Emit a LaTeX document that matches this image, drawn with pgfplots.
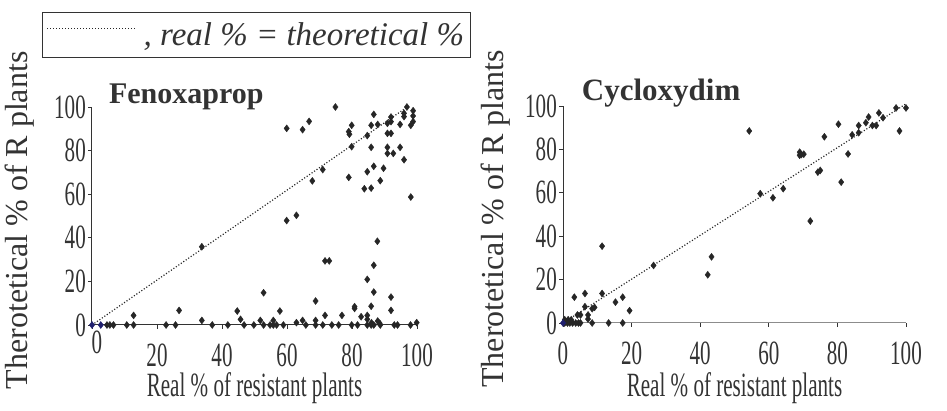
\documentclass[border=0pt]{standalone}
\usepackage{pgfplots}
\pgfplotsset{compat=1.18}
\usepackage{fontspec}
\setmainfont{Liberation Serif}
\newfontfamily\condfont[FakeStretch=0.62]{Liberation Serif}
\definecolor{mk}{HTML}{262626}
\definecolor{navy}{HTML}{1F1F6E}
\pgfplotstableread{
x y
59.9 90.2
64.8 89.6
66.8 93.4
74.9 100
79.0 88.7
79.2 87.5
79.9 91.6
79.9 81.8
86.7 96.6
84.7 86.9
85.9 91.6
87.9 92.0
85.9 81.5
86.7 72.8
84.7 70.3
83.8 62.5
85.9 62.8
88.7 66.2
89.7 71.9
90.9 81.5
90.9 78.7
92.7 78.7
94.8 81.5
96.0 75.8
90.9 87.9
92.0 87.9
90.9 92.5
92.0 93.3
92.0 95.4
94.8 92.0
96.0 97.1
96.0 95.6
96.9 100
98.8 98.3
98.8 95.9
98.8 93.3
98.1 91.6
98.1 58.7
79.0 67.7
71.0 71.3
67.8 66.1
59.9 47.9
62.9 50.3
33.8 35.9
71.7 29.4
73.0 29.4
87.8 38.4
86.7 27.4
84.7 20.9
86.7 15.1
92.0 12.8
52.8 14.8
68.8 11.0
85.9 8.6
80.8 8.4
80.8 7.6
92.0 6.7
12.8 4.4
26.8 6.7
44.7 6.4
57.8 6.4
71.7 4.4
76.9 4.4
82.8 3.8
84.7 4.4
84.7 2.6
45.7 2.6
33.8 2.1
51.8 2.1
55.8 2.1
62.9 1.1
64.8 2.1
68.8 2.1
87.9 1.8
99.9 1.1
86.0 1.0
88.5 0.8
4.6 0
5.5 0
6.6 0
10.7 0
12.8 0
22.8 0
25.7 0
37.0 0
41.8 0
46.8 0
49.8 0
52.8 0
54.8 0
55.8 0
56.8 0
58.9 0
65.8 0
68.8 0
71.0 0
73.8 0
75.9 0
79.9 0
81.7 0
84.7 0
85.9 0
86.7 0
88.7 0
93.0 0
94.0 0
98.0 0
}\fenox
\pgfplotstableread{
x y
54.3 88.5
57.5 59.6
61.2 57.7
64.2 61.9
69.0 78.7
69.5 77.6
70.2 77.8
69.0 77.3
72.1 47.0
74.3 69.5
75.0 70.3
76.2 85.8
80.3 91.6
81.1 64.9
83.1 77.9
84.3 86.7
86.2 87.7
86.2 91.0
88.3 92.3
89.1 94.9
90.2 91.0
91.3 91.0
92.1 96.8
93.3 94.6
97.1 99.1
98.1 88.5
100 99.1
42.2 22.2
43.3 30.5
26.4 26.5
11.4 35.4
11.4 13.6
6.4 13.6
3.3 11.9
17.4 11.9
15.3 9.6
19.4 5.7
6.4 7.5
8.5 6.6
9.2 7.2
4.2 3.7
5.1 3.7
7.3 3.7
7.3 1.8
0.5 1.5
1.5 1.5
2.4 1.5
0.5 0
1.3 0
2.0 0
2.8 0
3.7 0
4.5 0
5.1 0
8.5 0
13.3 0
17.4 0
}\cyclo
\pgfplotsset{
  every axis title shift=0pt,
  myax/.style={
    scale only axis, clip=false, enlargelimits=false,
    xmin=0, xmax=100, ymin=0, ymax=100,
    axis x line*=bottom, axis y line*=left,
    ytick={0,20,...,100},
    tick align=outside, major tick length=4pt,
    tick style={black!80, line width=0.7pt},
    axis line style={black!80, line width=1pt},
    /pgf/number format/assume math mode=true,
    tick label style={font=\condfont\fontsize{34}{34}\selectfont, text=black!80, inner sep=0pt},
    yticklabel style={anchor=east, xshift=-2pt},
    xticklabel style={anchor=north, yshift=-15pt},
    label style={text=black!80},
    xlabel={Real \% of resistant plants},
    ylabel={Therotetical \% of R plants},
    xlabel style={font=\condfont\fontsize{34}{34}\selectfont, anchor=center},
    ylabel style={font=\fontsize{32}{32}\selectfont, anchor=center},
    title style={font=\bfseries\fontsize{30}{30}\selectfont, text=black!80, anchor=base},
  },
}
\begin{document}
\begin{tikzpicture}[x=1pt,y=1pt]
\useasboundingbox (0,0) rectangle (947,411);
\begin{axis}[myax, at={(92pt,86pt)}, anchor=south west,
  width=325pt, height=218pt,
  xtick={20,40,60,80,100},
  extra x ticks={0},
  extra x tick style={xticklabel style={xshift=5pt, yshift=13pt}},
  xlabel style={at={(axis description cs:0.5,-0.29)}},
  ylabel style={at={(axis description cs:-0.224,0.48)}},
  title={Fenoxaprop}, title style={at={(axis description cs:0.29,1.018)}},
  legend style={at={(axis description cs:-0.154,1.436)}, anchor=north west,
    draw=black!80, line width=1pt, inner xsep=4pt, inner ysep=8.5pt,
    font=\itshape\fontsize{33}{33}\selectfont, text=black!80},
  legend cell align=left,
]
\addplot[black!85, line width=1.2pt, dash pattern=on 1.1pt off 1.9pt,
  legend image code/.code={\draw[black!85, line width=1.2pt, dash pattern=on 1.1pt off 1.9pt] (0pt,7pt) -- (88pt,7pt);}]
  coordinates {(0,0) (97,100)};
\addlegendentry{\hspace{6pt}, real \% = theoretical \%\hspace{15pt}}
\addplot[only marks, mark=diamond*, mark size=3.5pt, color=mk, forget plot] table {\fenox};
\addplot[only marks, mark=diamond*, mark size=3.5pt, color=navy, forget plot] coordinates {(0,0) (2.7,0)};
\end{axis}
\begin{axis}[myax, at={(563pt,88pt)}, anchor=south west,
  width=343pt, height=217pt,
  xtick={0,20,...,100},
  x axis line style={black!45},
  xlabel style={at={(axis description cs:0.5,-0.30)}},
  ylabel style={at={(axis description cs:-0.195,0.48)}},
  title={Cycloxydim}, title style={at={(axis description cs:0.286,1.024)}, font=\bfseries\fontsize{31}{31}\selectfont},
]
\addplot[black!85, line width=1.2pt, dash pattern=on 1.1pt off 1.9pt] coordinates {(0,0) (100,101)};
\addplot[only marks, mark=diamond*, mark size=3.5pt, color=mk] table {\cyclo};
\addplot[only marks, mark=diamond*, mark size=3.5pt, color=navy] coordinates {(0,0)};
\end{axis}
\end{tikzpicture}
\end{document}
